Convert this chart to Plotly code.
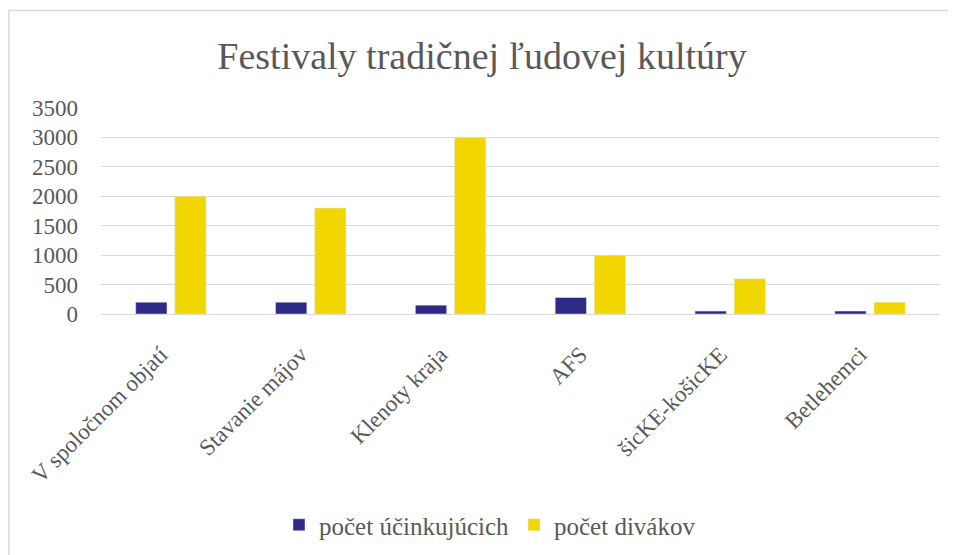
import plotly.graph_objects as go

categories = ["V spoločnom objatí", "Stavanie májov", "Klenoty kraja", "AFS", "šicKE-košicKE", "Betlehemci"]
ucinkujuci = [200, 200, 150, 280, 50, 50]
divaci = [2000, 1800, 3000, 1000, 600, 200]
series_names = ["počet účinkujúcich", "počet divákov"]
y_ticks = [0, 500, 1000, 1500, 2000, 2500, 3000, 3500]

FONT = "Liberation Serif"
GRAY = "#595959"

fig = go.Figure()
fig.add_trace(go.Bar(x=categories, y=ucinkujuci, name=series_names[0], marker_color="#2E2A85"))
fig.add_trace(go.Bar(x=categories, y=divaci, name=series_names[1], marker_color="#F2D600"))

OFF = 8  # page body margin
W, H = 956 - OFF, 555 - OFF
L, R, T, B = 101 - OFF, 16, 108 - OFF, H - (314 - OFF)
pw = W - L - R
ph = H - T - B

def px_x(x):
    return (x - OFF - L) / pw

def px_y(y):
    return 1 - (y - OFF - T) / ph

fig.update_layout(
    width=W, height=H,
    margin=dict(l=L, r=R, t=T, b=B, autoexpand=False),
    plot_bgcolor="white", paper_bgcolor="white",
    barmode="group", bargap=0.44, bargroupgap=0.2,
    title=dict(text="Festivaly tradičnej ľudovej kultúry", x=0.5, xanchor="center",
               y=1 - (56 - OFF) / H, yanchor="middle",
               font=dict(family=FONT, size=38, color=GRAY)),
    font=dict(family=FONT, color=GRAY, size=23),
    xaxis=dict(tickangle=-45, tickfont=dict(size=23, color=GRAY), showgrid=False,
               showline=True, linecolor="#D9D9D9", linewidth=1, ticks="",
               ticklabelshift=-10, ticklabelstandoff=17),
    yaxis=dict(range=[0, 3500], tickvals=y_ticks, tickfont=dict(size=23, color=GRAY),
               showgrid=True, gridcolor="#D9D9D9", gridwidth=1, zeroline=False,
               showline=False, ticks="", ticklabelstandoff=22),
    legend=dict(orientation="h", x=px_x(490), xanchor="center", y=px_y(525), yanchor="middle",
                font=dict(size=25, color=GRAY), itemwidth=30, traceorder="normal"),
    shapes=[
        dict(type="rect", xref="paper", yref="paper",
             x0=px_x(9), x1=px_x(990), y0=px_y(600), y1=px_y(10.5),
             line=dict(color="#D9D9D9", width=1.5), fillcolor="rgba(0,0,0,0)", layer="below"),
    ],
)

fig.write_html("out.html")
